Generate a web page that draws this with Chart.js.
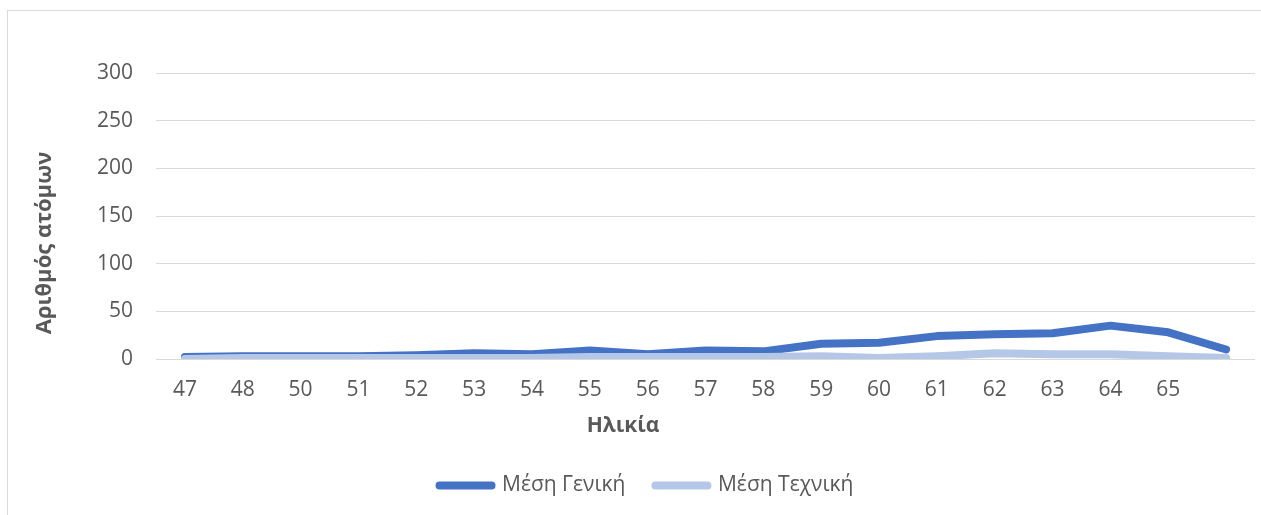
<!DOCTYPE html>
<html>
<head>
<meta charset="utf-8">
<script src="https://cdn.jsdelivr.net/npm/chart.js@4.4.1/dist/chart.umd.min.js"></script>
<style>
  html, body { margin: 0; padding: 0; background: #ffffff; }
  #wrap { position: relative; width: 1261px; height: 515px; overflow: hidden; }
  #frame { position: absolute; left: 7px; top: 10px; width: 1400px; height: 700px;
           border: 1px solid #d9d9d9; box-sizing: border-box; }
  #chart { position: absolute; left: 0; top: 0; }
</style>
</head>
<body>
<div id="wrap">
  <div id="frame"></div>
  <canvas id="chart" width="1261" height="515"></canvas>
</div>
<script>
// Age categories (last category has no label)
const ages = ['47', '48', '50', '51', '52', '53', '54', '55', '56', '57', '58', '59', '60', '61', '62', '63', '64', '65', ''];
// Number of people per age
const mesiGeniki   = [2, 3, 3, 3, 4, 6, 5, 9, 5, 9, 8, 16, 17, 24, 26, 27, 35, 28, 10];
const mesiTechniki = [0, 1, 1, 1, 1, 1, 1, 2, 2, 2, 2, 3, 1, 3, 6, 5, 5, 3, 1];
// Value-axis ticks
const yTicks = [0, 50, 100, 150, 200, 250, 300];

const yTitle = 'Αριθμός ατόμων';
const xTitle = 'Ηλικία';

const FONT = '"Open Sans", "Noto Sans", sans-serif';
const TEXT = '#595959';

// Axis titles drawn on the canvas after the chart
const axisTitles = {
  id: 'axisTitles',
  afterDraw(chart) {
    const ctx = chart.ctx;
    ctx.save();
    ctx.fillStyle = TEXT;
    ctx.textAlign = 'center';
    ctx.textBaseline = 'middle';
    ctx.font = 'bold 21px ' + FONT;
    ctx.fillText(xTitle, 623, 426);
    ctx.font = 'bold 22px ' + FONT;
    ctx.translate(45, 243);
    ctx.rotate(-Math.PI / 2);
    ctx.fillText(yTitle, 0, 0);
    ctx.restore();
  }
};

new Chart(document.getElementById('chart'), {
  type: 'line',
  data: {
    labels: ages,
    datasets: [
      {
        label: 'Μέση Γενική',
        data: mesiGeniki,
        borderColor: '#4472C4',
        backgroundColor: '#4472C4',
        borderWidth: 8,
        borderCapStyle: 'round',
        borderJoinStyle: 'round',
        pointRadius: 0,
        tension: 0,
        order: 1
      },
      {
        label: 'Μέση Τεχνική',
        data: mesiTechniki,
        borderColor: '#B4C7E7',
        backgroundColor: '#B4C7E7',
        borderWidth: 8,
        borderCapStyle: 'round',
        borderJoinStyle: 'round',
        pointRadius: 0,
        tension: 0,
        order: 0
      }
    ]
  },
  options: {
    responsive: false,
    animation: false,
    devicePixelRatio: 1,
    layout: { padding: { left: 38, right: 6, top: 73, bottom: 9 } },
    plugins: {
      tooltip: { enabled: false },
      legend: {
        position: 'bottom',
        labels: {
          usePointStyle: true,
          pointStyle: 'line',
          pointStyleWidth: 52,
          padding: 30,
          color: TEXT,
          font: { family: FONT, size: 21 },
          generateLabels(chart) {
            return chart.data.datasets.map((ds, i) => ({
              text: ds.label,
              fillStyle: ds.borderColor,
              strokeStyle: ds.borderColor,
              lineWidth: 8,
              lineCap: 'round',
              pointStyle: 'line',
              fontColor: TEXT,
              hidden: false,
              datasetIndex: i
            }));
          }
        }
      }
    },
    scales: {
      x: {
        offset: true,
        grid: { display: false, drawTicks: false },
        border: { display: false },
        ticks: {
          color: TEXT,
          font: { family: FONT, size: 21 },
          padding: 18,
          maxRotation: 0,
          autoSkip: false
        },
        afterFit(scale) { scale.height = 86; }
      },
      y: {
        min: 0,
        max: 300,
        grid: { color: '#d9d9d9', lineWidth: 1, drawTicks: false },
        border: { display: false },
        afterBuildTicks(scale) { scale.ticks = yTicks.map(v => ({ value: v })); },
        ticks: {
          color: TEXT,
          font: { family: FONT, size: 21 },
          padding: 23
        },
        afterFit(scale) { scale.width = 118; }
      }
    }
  },
  plugins: [axisTitles]
});
</script>
</body>
</html>
